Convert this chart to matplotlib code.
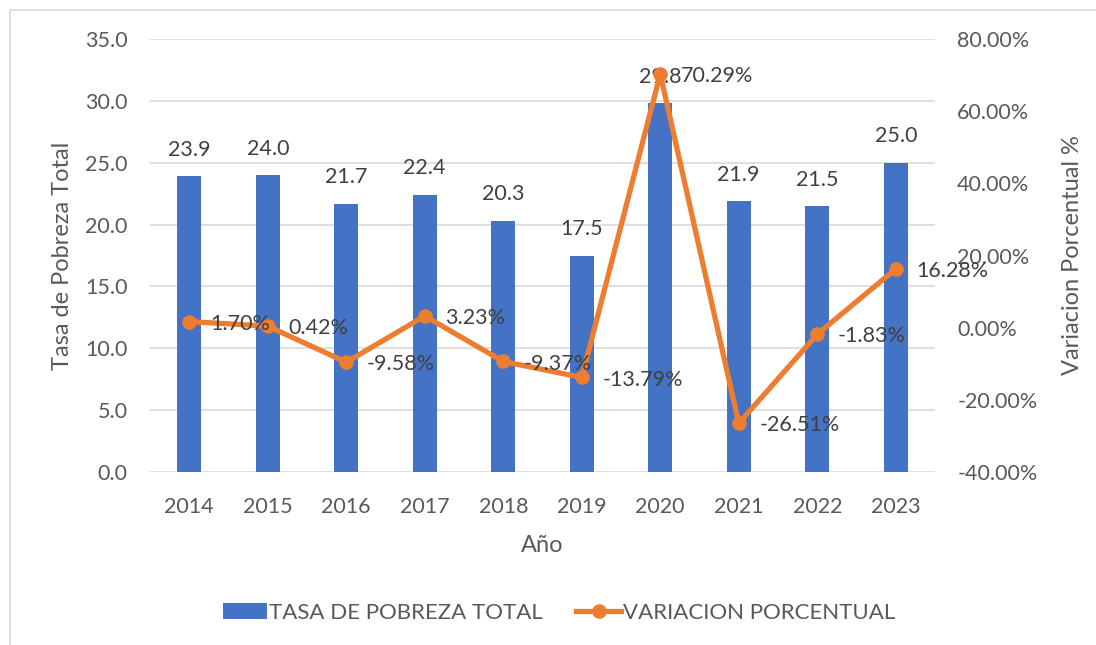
import matplotlib.pyplot as plt
from matplotlib.patches import Rectangle
from matplotlib.ticker import FuncFormatter

plt.rcParams['font.family'] = ['Lato', 'DejaVu Sans']

years = ['2014', '2015', '2016', '2017', '2018', '2019', '2020', '2021', '2022', '2023']
tasa = [23.9, 24.0, 21.7, 22.4, 20.3, 17.5, 29.8, 21.9, 21.5, 25.0]
variacion = [1.70, 0.42, -9.58, 3.23, -9.37, -13.79, 70.29, -26.51, -1.83, 16.28]

blue = '#4472C4'
orange = '#ED7D31'
tick_col = '#595959'
lab_col = '#404040'
fs = 15.5

fig = plt.figure(figsize=(10.96, 6.45), dpi=100)
fig.patches.append(Rectangle((10 / 1096, -0.1), 1.2, 1 - 10 / 645 + 0.1,
                             transform=fig.transFigure, fill=False,
                             edgecolor='#D9D9D9', linewidth=1.2))

ax = fig.add_axes([150 / 1096, 1 - 472 / 645, 785 / 1096, 433 / 645])
x = list(range(len(years)))
ax.bar(x, tasa, width=0.31, color=blue, zorder=2, label='TASA DE POBREZA TOTAL')
ax.set_xlim(-0.5, 9.5)
ax.set_ylim(0, 35)
ax.set_yticks([0, 5, 10, 15, 20, 25, 30, 35])
ax.yaxis.set_major_formatter(FuncFormatter(lambda v, p: f'{v:.1f}'))
ax.set_xticks(x)
ax.set_xticklabels(years)
ax.grid(axis='y', color='#D9D9D9', linewidth=1.2, zorder=0)
for s in ax.spines.values():
    s.set_visible(False)
ax.tick_params(length=0, labelsize=fs, colors=tick_col, pad=18)
ax.tick_params(axis='y', pad=16)
ax.set_ylabel('Tasa de Pobreza Total', fontsize=17, color=tick_col, labelpad=9)
ax.set_xlabel('Año', fontsize=17, color=tick_col, labelpad=13)

for xi, v in zip(x, tasa):
    ax.annotate(f'{v:.1f}', (xi, v), xytext=(0, 19), textcoords='offset points',
                ha='center', va='center', fontsize=fs, color=lab_col, zorder=5)

ax2 = ax.twinx()
ax2.plot(x, variacion, color=orange, linewidth=3.8, marker='o', markersize=9.5,
         zorder=3, label='VARIACION PORCENTUAL')
ax2.set_ylim(-40, 80)
ax2.set_yticks([-40, -20, 0, 20, 40, 60, 80])
ax2.yaxis.set_major_formatter(FuncFormatter(lambda v, p: f'{v:.2f}%'))
for s in ax2.spines.values():
    s.set_visible(False)
ax2.tick_params(length=0, labelsize=fs, colors=tick_col, pad=16)
ax2.set_ylabel('Variacion Porcentual %', fontsize=17, color=tick_col, labelpad=18)

for xi, v in zip(x, variacion):
    ax2.annotate(f'{v:.2f}%', (xi, v), xytext=(15, -1.5), textcoords='offset points',
                 ha='left', va='center', fontsize=fs, color=lab_col, zorder=6)

h1, l1 = ax.get_legend_handles_labels()
h2, l2 = ax2.get_legend_handles_labels()
fig.legend(h1 + h2, l1 + l2, loc='center', bbox_to_anchor=(559 / 1096, 1 - 613 / 645),
           ncol=2, frameon=False, fontsize=16, labelcolor=tick_col,
           handlelength=2.0, handletextpad=0.1, columnspacing=1.5)

fig.savefig('out.png', dpi=100)
